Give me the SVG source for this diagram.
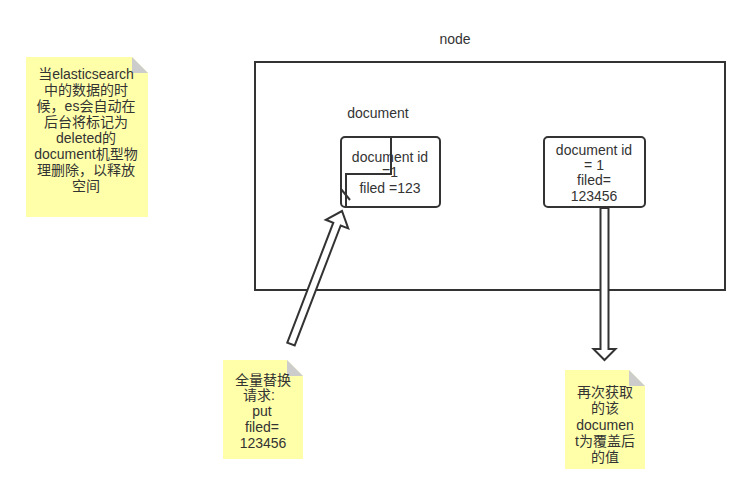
<svg xmlns="http://www.w3.org/2000/svg" width="750" height="495" viewBox="0 0 750 495">
<style>
text{font-family:"Liberation Sans","Noto Sans CJK SC",sans-serif;font-size:14px;fill:#333;text-anchor:middle}
.box{fill:#fff;stroke:#333;stroke-width:2}
.ln{fill:none;stroke:#333;stroke-width:2}
.note{fill:#ffffaa;stroke:none}
.fold{fill:#cccccc}
.arr{fill:#fff;stroke:#333;stroke-width:2;stroke-linejoin:miter}
</style>
<rect width="750" height="495" fill="#fff"/>
<g id="node">
<rect x="255" y="62" width="470" height="228" class="ln"/>
<text x="455" y="44">node</text>
</g>
<g id="document-label"><text x="378" y="118">document</text></g>
<g id="doc1">
<rect x="341" y="137" width="99" height="70" rx="4" class="box"/>
<text x="390" y="162">document id</text>
<text x="390" y="177">=1</text>
<text x="390" y="193">filed =123</text>
<path d="M391,137 L391,174 L346,174 L346,207" class="ln"/>
<path d="M341,189 L350,200" class="ln"/>
</g>
<g id="doc2">
<rect x="544" y="137" width="101" height="70" rx="4" class="box"/>
<text x="594" y="155">document id</text>
<text x="594" y="170">= 1</text>
<text x="594" y="185">filed=</text>
<text x="594" y="201">123456</text>
</g>
<g id="note1">
<path d="M26,57 H132 L148,73 V217 H26 Z" class="note"/>
<path d="M132,57 L148,73 H132 Z" class="fold"/>
<text x="86" y="79">当elasticsearch</text>
<text x="86" y="95">中的数据的时</text>
<text x="86" y="111">候，es会自动在</text>
<text x="86" y="127">后台将标记为</text>
<text x="86" y="143">deleted的</text>
<text x="86" y="159">document机型物</text>
<text x="86" y="175">理删除，以释放</text>
<text x="86" y="191">空间</text>
</g>
<g id="note2">
<path d="M223,360 H287 L303,376 V459 H223 Z" class="note"/>
<path d="M287,360 L303,376 H287 Z" class="fold"/>
<text x="263" y="385">全量替换</text>
<text x="259" y="400">请求:</text>
<text x="262" y="416">put</text>
<text x="262" y="432">filed=</text>
<text x="263" y="448">123456</text>
</g>
<g id="note3">
<path d="M565,370 H629 L645,386 V469 H565 Z" class="note"/>
<path d="M629,370 L645,386 H629 Z" class="fold"/>
<text x="605" y="397">再次获取</text>
<text x="605" y="413">的该</text>
<text x="605" y="430">documen</text>
<text x="605" y="446">t为覆盖后</text>
<text x="605" y="462">的值</text>
</g>
<g id="connectors">
<path d="M287.3,342.6 L333.3,222.7 L325.8,219.8 L342,211 L348.2,228.4 L340.7,225.5 L294.7,345.4 Z" class="arr"/>
<path d="M600.5,208 L600.5,349 L593.5,349 L604.5,360 L615.5,349 L608.5,349 L608.5,208 Z" class="arr"/>
</g>
</svg>
